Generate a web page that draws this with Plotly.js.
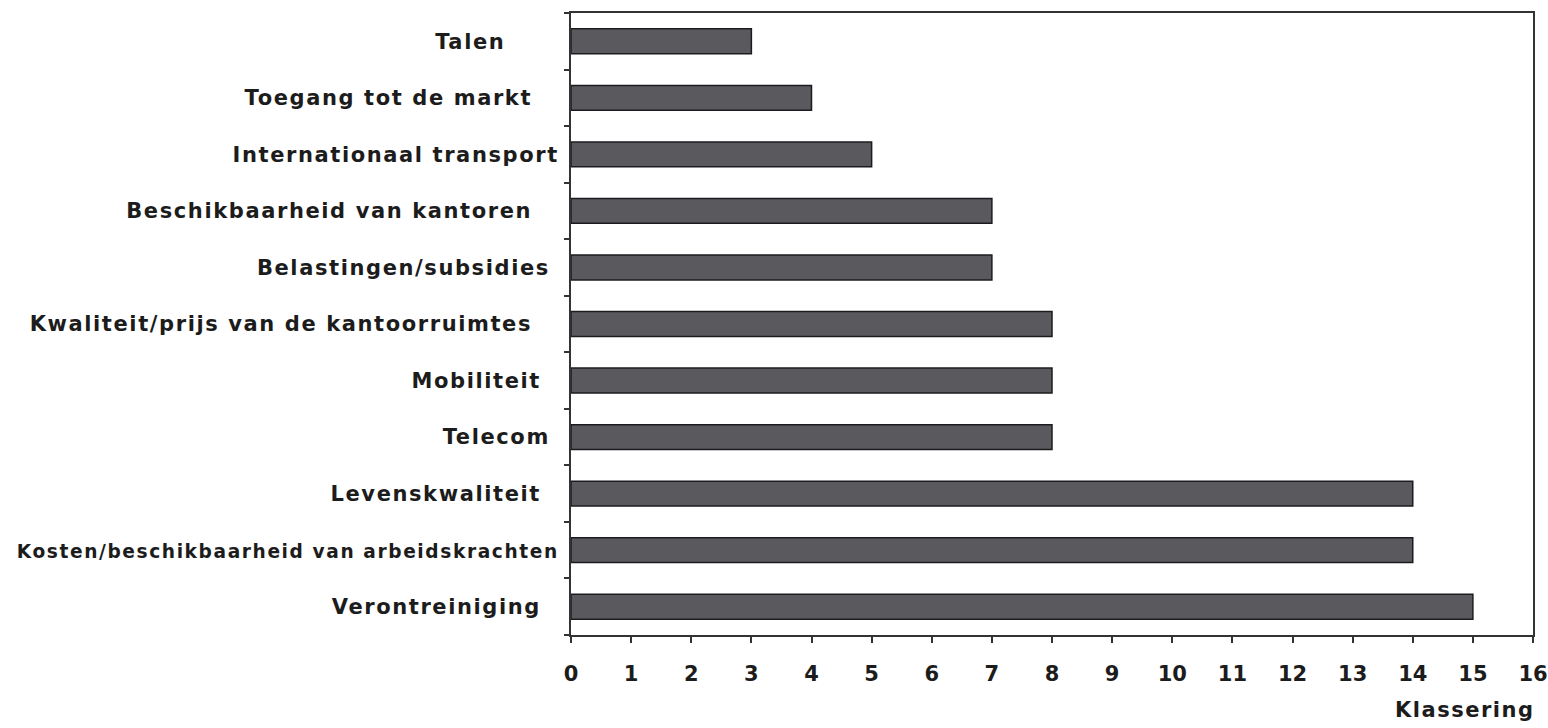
<!DOCTYPE html>
<html><head><meta charset="utf-8">
<script src="https://cdn.plot.ly/plotly-3.0.1.min.js"></script>
<style>
html,body{margin:0;padding:0;background:#fff}#c{width:1548px;height:728px}
.ytick text{letter-spacing:1.6px}
.annotation-text{letter-spacing:1.5px}
</style>
</head><body><div id="c"></div>
<script>
const categories = ["Talen","Toegang tot de markt","Internationaal transport","Beschikbaarheid van kantoren","Belastingen/subsidies","Kwaliteit/prijs van de kantoorruimtes","Mobiliteit","Telecom","Levenskwaliteit","Kosten/beschikbaarheid van arbeidskrachten","Verontreiniging"];
const values = [3,4,5,7,7,8,8,8,14,14,15];
// trailing non-breaking spaces reproduce the uneven right edges of the labels
const labelPad = [6,3,0,3,1,3,2,1,2,0,2];
const xTicks = [0,1,2,3,4,5,6,7,8,9,10,11,12,13,14,15,16];
const xTitle = "Klassering";

const fontFam = "'DejaVu Sans', 'Liberation Sans', Arial, sans-serif";
const tickLabels = categories.map((c, i) => {
  const t = c + "\u00A0".repeat(labelPad[i]);
  return c.length > 40 ? "<span style='font-size:18.6px'>" + t + "</span>" : t;
});

Plotly.newPlot('c', [{
  type: 'bar', orientation: 'h',
  x: values, y: categories,
  width: 0.44,
  marker: {color: '#5a5a5e', line: {color: '#1c1c20', width: 1.5}},
  hoverinfo: 'skip'
}], {
  width: 1548, height: 728,
  margin: {l: 571, r: 15, t: 13, b: 93},
  paper_bgcolor: '#fff', plot_bgcolor: '#fff',
  showlegend: false,
  font: {family: fontFam, color: '#1c1c1c'},
  xaxis: {
    range: [0, 16], tickvals: xTicks, ticktext: xTicks.map(String),
    showgrid: false, zeroline: false,
    showline: true, linecolor: '#333', linewidth: 2, mirror: true,
    ticks: 'outside', ticklen: 6, tickwidth: 2, tickcolor: '#333',
    tickfont: {size: 21, weight: 'bold', color: '#1c1c1c', family: fontFam},
    ticklabelstandoff: 13
  },
  yaxis: {
    type: 'category', categoryorder: 'array', categoryarray: categories,
    tickvals: categories, ticktext: tickLabels,
    autorange: 'reversed',
    showgrid: false, zeroline: false,
    showline: true, linecolor: '#333', linewidth: 2, mirror: true,
    ticks: 'outside', tickson: 'boundaries', ticklen: 5, tickwidth: 2, tickcolor: '#333',
    tickfont: {size: 21, weight: 'bold', color: '#1c1c1c', family: fontFam},
    ticklabelstandoff: 6
  },
  annotations: [{
    text: xTitle, xref: 'paper', yref: 'paper', x: 1.003, y: 0, xanchor: 'right', yanchor: 'top',
    yshift: -61, showarrow: false,
    font: {size: 21, weight: 'bold', color: '#1c1c1c', family: fontFam}
  }]
}, {displayModeBar: false, staticPlot: true});
</script></body></html>
